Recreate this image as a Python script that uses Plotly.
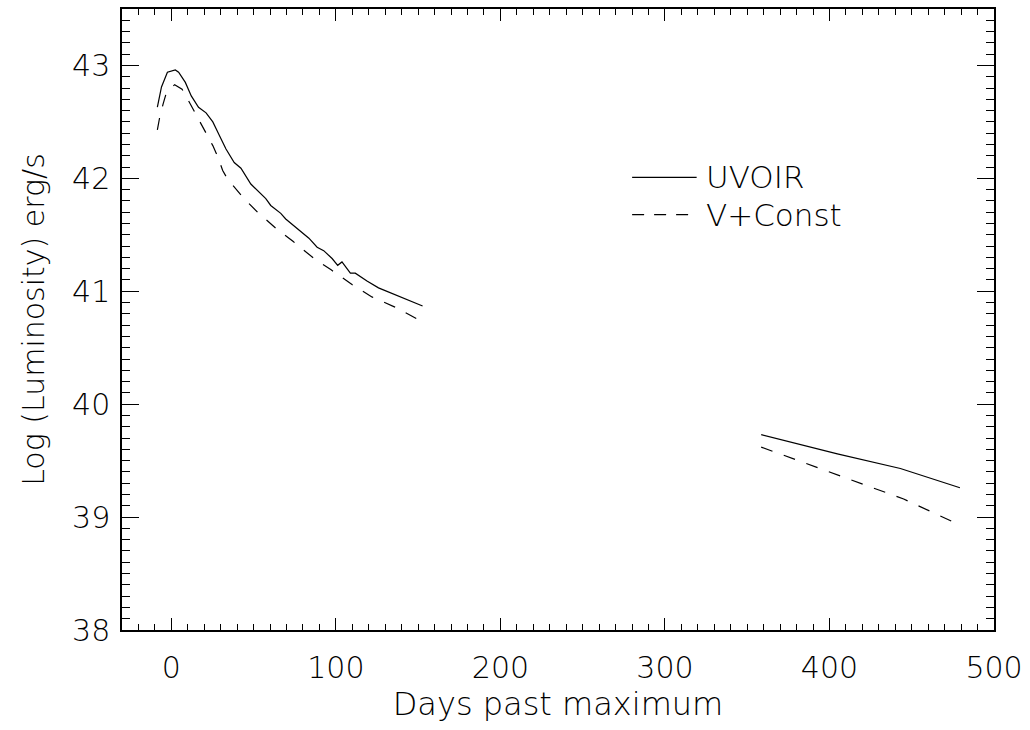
import plotly.graph_objects as go

# ---- data ----
uvoir_early_days = [-8.5, -6.0, -2.4, 2.4, 4.4, 8.5, 12.1, 16.5, 21.1, 25.2, 29.2, 33.2, 38.2, 42.3,
                    48.3, 57.4, 60.4, 66.5, 69.5, 76.6, 83.6, 88.6, 92.6, 97.7, 101.1, 103.7, 108.8,
                    111.8, 118.9, 125.9, 137.9, 152.7]
uvoir_early_lum = [42.63, 42.81, 42.94, 42.96, 42.94, 42.85, 42.73, 42.63, 42.58, 42.50, 42.38, 42.26,
                   42.14, 42.09, 41.95, 41.82, 41.76, 41.69, 41.64, 41.55, 41.47, 41.39, 41.36, 41.29,
                   41.23, 41.26, 41.16, 41.16, 41.09, 41.03, 40.96, 40.87]
uvoir_late_days = [358.5, 404.8, 443.1, 479.3]
uvoir_late_lum = [39.73, 39.56, 39.43, 39.26]

vconst_early_days = [-8.5, -7.1, -5.0, -3.0, 2.0, 6.5, 11.1, 14.1, 18.1, 21.8, 25.2, 28.2, 31.2, 34.3,
                     39.9, 44.3, 52.4, 63.4, 74.1, 84.6, 87.6, 97.1, 109.8, 121.9, 135.9, 150.0, 153.0]
vconst_early_lum = [42.43, 42.54, 42.66, 42.76, 42.83, 42.79, 42.67, 42.59, 42.48, 42.39, 42.29, 42.19,
                    42.07, 41.99, 41.90, 41.82, 41.70, 41.56, 41.44, 41.32, 41.28, 41.19, 41.06, 40.95,
                    40.86, 40.75, 40.72]
vconst_late_days = [358.5, 401.8, 445.1, 479.3]
vconst_late_lum = [39.62, 39.39, 39.16, 38.93]

series_names = ["UVOIR", "V+Const"]
x_tick_vals = [0, 100, 200, 300, 400, 500]
y_tick_vals = [38, 39, 40, 41, 42, 43]

FONT = "DejaVu Sans"
WEIGHT = 200
LINE = dict(color="black", width=1.2)

fig = go.Figure()
for days, lum in [(uvoir_early_days, uvoir_early_lum), (uvoir_late_days, uvoir_late_lum)]:
    fig.add_trace(go.Scatter(x=days, y=lum, mode="lines", line=dict(**LINE),
                             showlegend=False, name=series_names[0]))
for days, lum in [(vconst_early_days, vconst_early_lum), (vconst_late_days, vconst_late_lum)]:
    fig.add_trace(go.Scatter(x=days, y=lum, mode="lines", line=dict(**LINE, dash="12px,12px"),
                             showlegend=False, name=series_names[1]))

# manual legend (line samples + labels)
fig.add_shape(type="line", xref="paper", yref="paper", x0=0.585, x1=0.659, y0=0.729, y1=0.729,
              line=dict(color="black", width=1.2))
fig.add_shape(type="line", xref="paper", yref="paper", x0=0.585, x1=0.659, y0=0.669, y1=0.669,
              line=dict(color="black", width=1.2, dash="12px,10px"))
fig.add_annotation(xref="paper", yref="paper", x=0.668, y=0.729, text=series_names[0],
                   showarrow=False, xanchor="left", yanchor="middle",
                   font=dict(family=FONT, size=31, color="black", weight=WEIGHT))
fig.add_annotation(xref="paper", yref="paper", x=0.668, y=0.669, text=series_names[1],
                   showarrow=False, xanchor="left", yanchor="middle",
                   font=dict(family=FONT, size=31, color="black", weight=WEIGHT))

axis_common = dict(
    showgrid=False, zeroline=False, showline=True, linecolor="black", linewidth=1.5,
    mirror="allticks", ticks="inside", tickcolor="black", tickwidth=1.2,
    tickfont=dict(family=FONT, size=30, color="black", weight=WEIGHT),
)

fig.update_xaxes(**axis_common, range=[-30, 500], tickvals=x_tick_vals, ticklen=12,
                 ticklabelstandoff=10,
                 minor=dict(ticks="inside", dtick=10, ticklen=6, tickcolor="black", tickwidth=1),
                 title=dict(text="Days past maximum",
                            font=dict(family=FONT, size=32, color="black", weight=WEIGHT),
                            standoff=8))
fig.update_yaxes(**axis_common, range=[38, 43.5], tickvals=y_tick_vals, ticklen=17,
                 ticklabelstandoff=4,
                 minor=dict(ticks="inside", dtick=0.1, ticklen=8, tickcolor="black", tickwidth=1),
                 title=dict(text="Log (Luminosity) erg/s",
                            font=dict(family=FONT, size=30, color="black", weight=WEIGHT),
                            standoff=19))

fig.update_layout(
    width=1030, height=730,
    margin=dict(l=122, r=34, t=7, b=100),
    paper_bgcolor="white", plot_bgcolor="white",
    showlegend=False,
)

fig.write_html("out.html")
